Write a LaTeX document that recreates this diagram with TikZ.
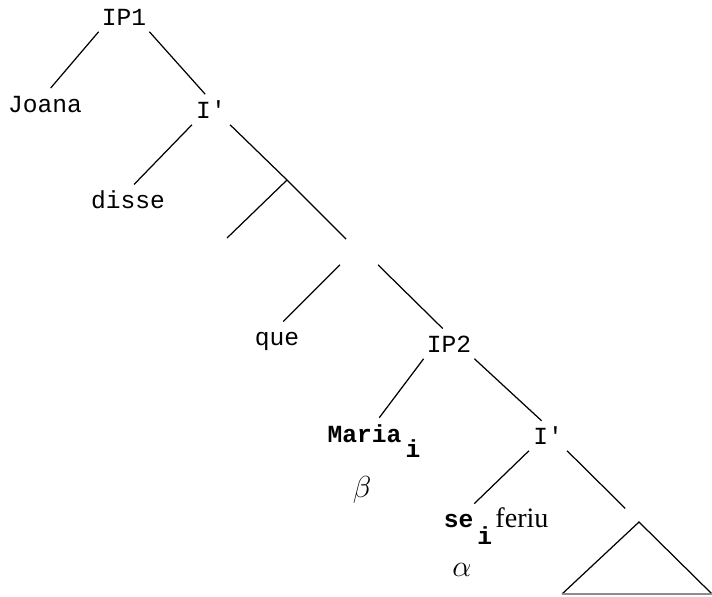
\documentclass[tikz,border=0pt]{standalone}
\usepackage{fontspec}
\setmainfont{Liberation Mono}
\newfontfamily\verbfont{Liberation Serif}
\usepackage{tikz}

\begin{document}
\begin{tikzpicture}[x=0.02cm, y=-0.02cm, font=\fontsize{14}{16}\selectfont, line width=0.7pt,
    cat/.style={inner sep=1.5pt, minimum width=21pt, text height=8pt, text depth=2pt, anchor=base},
    empty/.style={inner sep=0pt, minimum width=21pt, minimum height=14pt},
    greek/.style={font=\fontsize{18}{20}\selectfont},
    branch/.style={shorten >=5pt}]
		\useasboundingbox (0,0) rectangle (712,596);
		% Draw labels
		\node[cat] (ip1) at (124,25) {IP1};
		\node[cat] (joana) at (45,112) {Joana};
		\node[cat] (ibara) at (211,118) {I\textquotesingle};
		\node[cat] (disse) at (128,208) {disse};
		\coordinate (x1) at (287,180);
		\coordinate (gap) at (227,238);
		\node[empty] (x2) at (359,252) {};
		\node[cat] (que) at (277,345) {que};
		\node[cat] (ip2) at (449,352) {IP2};
		\node[cat] (maria) at (374,442) {\textbf{Maria}\,\raisebox{-9pt}{\textbf{i}}};
		\node[greek] (beta) at (362,490) {$\beta$};
		\node[cat] (ibarb) at (548,444) {I\textquotesingle};
		\node[cat] (se) at (468,527) {\textbf{se}\,\raisebox{-10pt}{\textbf{i}}};
		\node[cat] (feriu) at (522,527) {\verbfont\fontsize{16}{18}\selectfont feriu};
		\node[greek] (alpha) at (462,570) {$\alpha$};
		\coordinate (tri) at (639,522);
		\coordinate (tl) at (562,594);
		\coordinate (tr) at (712,594);
		% Draw branches
		\draw[branch] (ip1.south west) -- (joana.north);
		\draw[branch] (ip1.south east) -- (ibara.north);
		\draw[branch] (ibara.south west) -- (disse.north);
		\draw (ibara.south east) -- (x1);
		\draw (x1) -- (gap);
		\draw (x1) -- (x2);
		\draw[branch] (x2.south west) -- (que.north);
		\draw[branch] (x2.south east) -- (ip2.north);
		\draw[branch] (ip2.south west) -- (maria.north);
		\draw[branch] (ip2.south east) -- (ibarb.north);
		\draw[branch] (ibarb.south west) -- (se.north);
		\draw[shorten >=11pt] (ibarb.south east) -- (tri);
		% Draw triangle
		\draw (tl) -- (tri) -- (tr);
		\draw[black!45] (tl) -- (tr);
	\end{tikzpicture}
\end{document}
